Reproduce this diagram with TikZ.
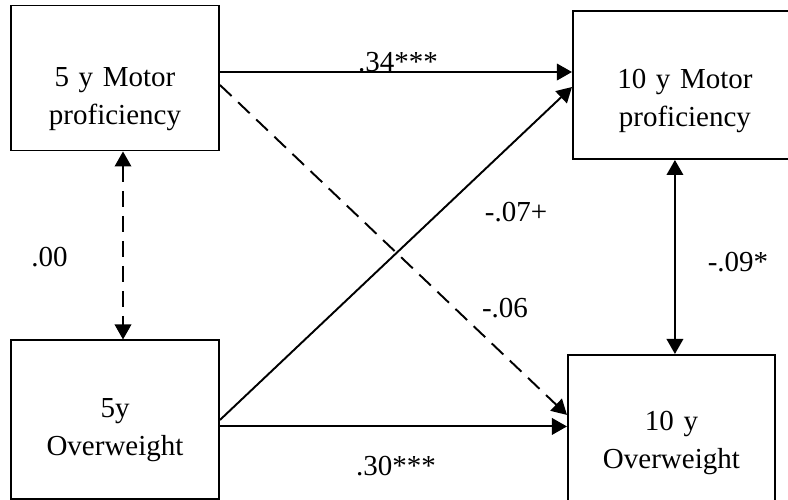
\documentclass[tikz,border=0pt]{standalone}
\usepackage{fontspec}
\setmainfont{Liberation Serif}
\usepackage{tikz}
\usetikzlibrary{arrows.meta, positioning}
\tikzset{
  varbox/.style={rectangle, draw=black, line width=1.1pt,
    text width=3.9cm, align=center, text height=0.96cm,
    minimum width=4.16cm, minimum height=2.9cm, inner sep=0pt,
    font=\fontsize{16.5}{21.6}\selectfont},
  coef/.style={inner sep=0pt, font=\fontsize{16.5}{21.6}\selectfont},
  arrow/.style={-{Triangle[length=0.3cm, width=0.33cm]}, line width=1.1pt},
  dblarrow/.style={{Triangle[length=0.3cm, width=0.33cm]}-{Triangle[length=0.3cm, width=0.33cm]}, line width=1.1pt},
  dashline/.style={dash pattern=on 0.32cm off 0.18cm}
}
\begin{document}
\begin{tikzpicture}
  \useasboundingbox (0,0) rectangle (15.76,-9.98);
  \clip (0,0) rectangle (15.76,-9.98);
  % boxes
  \node[varbox, text height=1.24cm] (m5) at (2.30,-1.56) {5 y Motor\\proficiency};
  \node[varbox, below=3.76cm of m5, minimum height=3.18cm, text height=0.8cm] (ow5) {5y\\Overweight};
  \node[varbox, right=7.04cm of m5, yshift=-0.14cm, minimum width=4.48cm,
    minimum height=2.96cm, text height=1.04cm] (m10) {10 y Motor\\proficiency};
  \node[varbox, below=3.88cm of m10, xshift=-0.27cm, minimum width=4.14cm,
    minimum height=2.96cm] (ow10) {10 y\\Overweight};
  % paths
  \draw[arrow] ([yshift=0.12cm]m5.east) -- ([yshift=0.12cm]m5.east -| m10.west);
  \draw[arrow, dashline] ([yshift=-0.14cm]m5.east) -- ([yshift=0.28cm]ow10.west);
  \draw[arrow] (ow5.east) -- ([yshift=-0.04cm]m10.west);
  \draw[arrow] ([yshift=-0.13cm]ow5.east) -- ([yshift=-0.13cm]ow5.east -| ow10.west);
  \draw[dblarrow, dashline] ([xshift=0.16cm]m5.south) -- ([xshift=0.16cm]m5.south |- ow5.north);
  \draw[dblarrow] ([xshift=-0.2cm]m10.south) -- ([xshift=-0.2cm]m10.south |- ow10.north);
  % coefficients
  \node[coef] (c34) at (7.96,-1.24) {.34***};
  \node[coef] (c00) at (0.99,-5.14) {.00};
  \node[coef] (c07) at (10.32,-4.24) {-.07+};
  \node[coef] (c06) at (10.10,-6.16) {-.06};
  \node[coef] (c09) at (14.76,-5.24) {-.09*};
  \node[coef] (c30) at (7.92,-9.32) {.30***};
\end{tikzpicture}
\end{document}
